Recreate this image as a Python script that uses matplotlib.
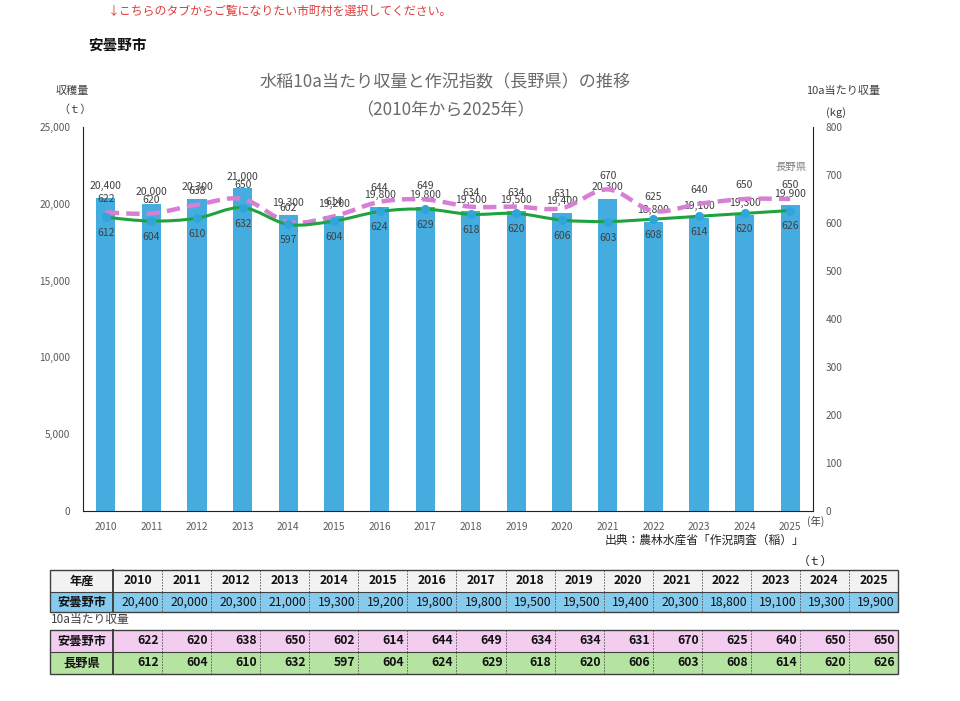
import matplotlib
matplotlib.use("Agg")
import matplotlib.pyplot as plt
from matplotlib.path import Path
from matplotlib.patches import PathPatch, Rectangle
import numpy as np

plt.rcParams['font.family'] = ['Noto Sans CJK JP', 'DejaVu Sans']

years = ['2010', '2011', '2012', '2013', '2014', '2015', '2016', '2017',
         '2018', '2019', '2020', '2021', '2022', '2023', '2024', '2025']
production = [20400, 20000, 20300, 21000, 19300, 19200, 19800, 19800,
              19500, 19500, 19400, 20300, 18800, 19100, 19300, 19900]
yield_city = [622, 620, 638, 650, 602, 614, 644, 649, 634, 634, 631, 670, 625, 640, 650, 650]
yield_pref = [612, 604, 610, 632, 597, 604, 624, 629, 618, 620, 606, 603, 608, 614, 620, 626]

BAR = '#45ACE0'
PINK = '#D77FD3'
GREEN = '#1FA33E'
MARK = '#2FA6DA'
TXT = '#404040'

W, H = 960, 701
fig = plt.figure(figsize=(W / 100, H / 100), dpi=100)

# overlay in pixel coordinates for texts/tables
ov = fig.add_axes([0, 0, 1, 1], zorder=0)
ov.set_xlim(0, W)
ov.set_ylim(H, 0)
ov.axis('off')

L, R, T, B = 83, 813, 127, 511
ax = fig.add_axes([L / W, 1 - B / H, (R - L) / W, (B - T) / H], zorder=2)
ax.patch.set_alpha(0)
ax2 = ax.twinx()

x = np.arange(len(years))
ax.bar(x, production, width=0.42, color=BAR, zorder=2)
ax.set_xlim(-0.5, len(years) - 0.5)
ax.set_ylim(0, 25000)
ax.set_yticks(np.arange(0, 25001, 5000))
ax.set_yticklabels([f'{v:,}' for v in range(0, 25001, 5000)])
ax.set_xticks(x)
ax.set_xticklabels(years)
ax.tick_params(axis='both', length=0, labelsize=7.3, labelcolor='#595959')
ax.tick_params(axis='y', pad=9)
ax.tick_params(axis='x', pad=8)
for s in ['top', 'right']:
    ax.spines[s].set_visible(False)
ax.spines['left'].set_color('#222222')
ax.spines['bottom'].set_color('#222222')

ax2.set_ylim(0, 800)
ax2.set_yticks(np.arange(0, 801, 100))
ax2.tick_params(axis='y', length=0, labelsize=7.3, labelcolor='#595959', pad=9)
for s in ['top', 'left', 'bottom']:
    ax2.spines[s].set_visible(False)
ax2.spines['right'].set_color('#222222')


def smooth_path(xs, ys):
    pts = np.column_stack([xs, ys]).astype(float)
    n = len(pts)
    verts = [pts[0]]
    codes = [Path.MOVETO]
    for i in range(n - 1):
        p0 = pts[i - 1] if i > 0 else pts[i]
        p1 = pts[i]
        p2 = pts[i + 1]
        p3 = pts[i + 2] if i + 2 < n else pts[i + 1]
        c1 = p1 + (p2 - p0) / 6.0
        c2 = p2 - (p3 - p1) / 6.0
        verts += [c1, c2, p2]
        codes += [Path.CURVE4] * 3
    return Path(verts, codes)


pp = PathPatch(smooth_path(x, yield_city), facecolor='none', edgecolor=PINK,
               lw=3.2, linestyle=(0, (3, 1.6)), zorder=3, capstyle='butt')
ax2.add_patch(pp)
gp = PathPatch(smooth_path(x, yield_pref), facecolor='none', edgecolor=GREEN,
               lw=2.2, zorder=4)
ax2.add_patch(gp)
ax2.plot(x, yield_pref, linestyle='none', marker='o', ms=5.5, color=MARK, zorder=5)

for xi, v in zip(x, production):
    ax.annotate(f'{v:,}', (xi, v), xytext=(0, 8.5), textcoords='offset points',
                ha='center', va='center', fontsize=7.5, color=TXT, zorder=6)
for xi, v in zip(x, yield_city):
    ax2.annotate(f'{v}', (xi, v), xytext=(0, 10), textcoords='offset points',
                 ha='center', va='center', fontsize=7.5, color=TXT, zorder=6)
for xi, v in zip(x, yield_pref):
    ax2.annotate(f'{v}', (xi, v), xytext=(0, -11.5), textcoords='offset points',
                 ha='center', va='center', fontsize=7.5, color=TXT, zorder=6)

# texts
ov.text(108, 11, '↓こちらのタブからご覧になりたい市町村を選択してください。', color='#E03A3A',
        fontsize=8.6, ha='left', va='center')
ov.text(88, 45, '安曇野市', fontsize=10.5, fontweight='bold', ha='left', va='center', color='#111111')
ov.text(445, 82, '水稲10a当たり収量と作況指数（長野県）の推移', fontsize=12.3, color='#6A6A6A',
        ha='center', va='center')
ov.text(445, 110, '（2010年から2025年）', fontsize=12.3, color='#6A6A6A', ha='center', va='center')
ov.text(72, 91, '収穫量', fontsize=8, color=TXT, ha='center', va='center')
ov.text(75, 110, '（ｔ）', fontsize=8, color=TXT, ha='center', va='center')
ov.text(843, 91, '10a当たり収量', fontsize=8, color=TXT, ha='center', va='center')
ov.text(836, 113, '(kg)', fontsize=8, color=TXT, ha='center', va='center')
ov.text(791, 167, '長野県', fontsize=7.5, color='#7F7F7F', ha='center', va='center')
ov.text(816, 521, '(年)', fontsize=7.5, color=TXT, ha='center', va='center')
ov.text(705, 540, '出典：農林水産省「作況調査（稲）」', fontsize=8.5, color='#222222',
        ha='center', va='center')
ov.text(815, 561, '（ｔ）', fontsize=8.5, color='#222222', ha='center', va='center')
ov.text(51, 620, '10a当たり収量', fontsize=8.5, color=TXT, ha='left', va='center')

# tables
X0, C0, X1 = 50, 113, 898
cw = (X1 - C0) / len(years)
EDGE = '#404040'


def draw_row(y0, y1, label, values, bg, bold_vals, header=False):
    ov.add_patch(Rectangle((X0, y0), X1 - X0, y1 - y0, facecolor=bg, edgecolor='none', zorder=1))
    yc = (y0 + y1) / 2
    ov.text((X0 + C0) / 2, yc, label, fontsize=8.8, fontweight='bold', ha='center', va='center',
            color='#111111', zorder=3)
    for i, v in enumerate(values):
        if header:
            ov.text(C0 + (i + 0.5) * cw, yc, v, fontsize=8.8, fontweight='bold', ha='center',
                    va='center', color='#111111', zorder=3)
        else:
            ov.text(C0 + (i + 1) * cw - 3, yc, v, fontsize=8.8,
                    fontweight='bold' if bold_vals else 'normal', ha='right', va='center',
                    color='#111111', zorder=3)
    for i in range(1, len(years)):
        xx = C0 + i * cw
        ov.plot([xx, xx], [y0, y1], color='#555555', lw=0.6, ls=(0, (2, 1.5)), zorder=2)


def frame(y0, y1, mids):
    ov.add_patch(Rectangle((X0, y0), X1 - X0, y1 - y0, facecolor='none', edgecolor=EDGE,
                           lw=1.0, zorder=4))
    ov.plot([C0, C0], [y0, y1], color=EDGE, lw=1.4, zorder=4)
    for m in mids:
        ov.plot([X0, X1], [m, m], color=EDGE, lw=0.8, zorder=4)


draw_row(570, 592, '年産', years, '#F2F2F2', False, header=True)
draw_row(592, 612, '安曇野市', [f'{v:,}' for v in production], '#86CBEE', False)
frame(570, 612, [592])

draw_row(630, 652, '安曇野市', [str(v) for v in yield_city], '#F3CDF0', True)
draw_row(652, 674, '長野県', [str(v) for v in yield_pref], '#B5E3A0', True)
frame(630, 674, [652])

fig.savefig('out.png', dpi=100)
